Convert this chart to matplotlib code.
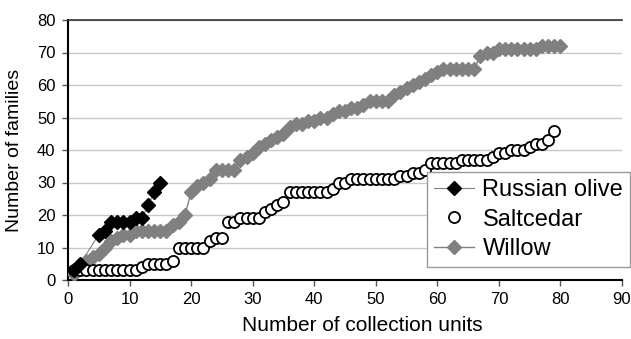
import matplotlib
matplotlib.use("Agg")
import matplotlib.pyplot as plt

plt.rcParams['font.family'] = ['Liberation Sans', 'DejaVu Sans']

# Russian olive
ro_x = [1, 2, 5, 6, 7, 8, 9, 10, 11, 12, 13, 14, 15]
ro_y = [3, 5, 14, 15, 18, 18, 18, 18, 19, 19, 23, 27, 30]

# Saltcedar (x = 1..79)
sc_y = [3, 3, 3, 3, 3, 3, 3, 3, 3, 3, 3,          # 1-11
        4, 5, 5, 5, 5, 6,                          # 12-17
        10, 10, 10, 10, 10, 12, 13, 13,            # 18-25
        18, 18, 19, 19, 19, 19, 21, 22, 23, 24,    # 26-35
        27, 27, 27, 27, 27, 27, 27, 28, 30, 30,    # 36-45
        31, 31, 31, 31, 31, 31, 31, 31, 32, 32,    # 46-55
        33, 33, 34, 36, 36, 36, 36, 36, 37, 37,    # 56-65
        37, 37, 37, 38, 39, 39, 40, 40, 40, 41,    # 66-75
        42, 42, 43, 46]                            # 76-79
sc_x = list(range(1, len(sc_y) + 1))

# Willow (x = 1..80)
w_y = [2, 4, 6, 7, 8, 10, 12, 13, 14, 14,
       15, 15, 15, 15, 15, 15, 17, 18, 20, 27,
       29, 30, 31, 34, 34, 34, 34, 37, 38, 39,
       41, 42, 43, 44, 45, 47, 48, 48, 49, 49,
       50, 50, 51, 52, 52, 53, 53, 54, 55, 55,
       55, 55, 57, 58, 59, 60, 61, 62, 63, 64,
       65, 65, 65, 65, 65, 65, 69, 70, 70, 71,
       71, 71, 71, 71, 71, 71, 72, 72, 72, 72]
w_x = list(range(1, len(w_y) + 1))

x_ticks = list(range(0, 91, 10))
y_ticks = list(range(0, 81, 10))

fig = plt.figure(figsize=(6.31, 3.39), dpi=100)
ax = fig.add_axes([68 / 631, 1 - 280 / 339, (622 - 68) / 631, (280 - 20) / 339])

hw, = ax.plot(w_x, w_y, color='#808080', lw=1.0, marker='D', ms=7.2,
              mfc='#808080', mec='#808080', zorder=3, label='Willow')
hs, = ax.plot(sc_x, sc_y, ls='none', marker='o', ms=8, mfc='white',
              mec='black', mew=1.3, zorder=4, label='Saltcedar')
hr, = ax.plot(ro_x, ro_y, color='#808080', lw=0.8, marker='D', ms=7,
              mfc='black', mec='black', zorder=5, label='Russian olive')

ax.set_xlim(0, 90)
ax.set_ylim(0, 80)
ax.set_xticks(x_ticks)
ax.set_yticks(y_ticks)
ax.tick_params(axis='both', labelsize=12, direction='out', length=4, width=1,
               color='#555555', pad=5)
ax.yaxis.grid(True, color='#c8c8c8', lw=1)
ax.set_axisbelow(True)

for s in ['left', 'bottom']:
    ax.spines[s].set_color('black')
    ax.spines[s].set_linewidth(1.5)
ax.spines['top'].set_color('#333333')
ax.spines['top'].set_linewidth(1.2)
ax.spines['right'].set_visible(False)

ax.set_xlabel('Number of collection units', fontsize=15)
ax.xaxis.set_label_coords((362 - 68) / 554, (280 - 316) / 260)
ax.set_ylabel('Number of families', fontsize=14, labelpad=10)

leg = fig.legend([hr, hs, hw], ['Russian olive', 'Saltcedar', 'Willow'],
                 loc='upper left', bbox_to_anchor=(427 / 631, 1 - 172 / 339),
                 fontsize=17, frameon=True, fancybox=False, framealpha=1,
                 edgecolor='#999999', borderpad=0.3, labelspacing=0.32,
                 handlelength=1.7, handletextpad=0.35, borderaxespad=0)
leg.get_frame().set_linewidth(1.0)

fig.savefig('out.png', dpi=100)
